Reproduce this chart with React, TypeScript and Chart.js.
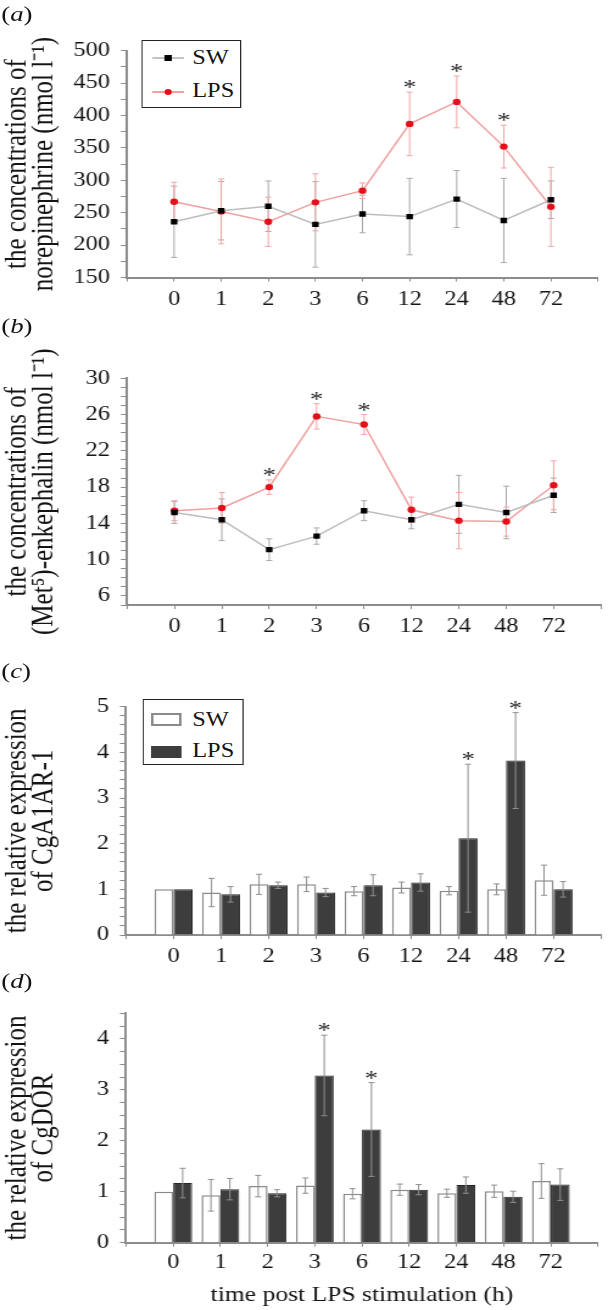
import React, { useEffect, useRef } from "react";
import { Chart, registerables } from "chart.js";

Chart.register(...registerables);

const SERIF = '"Liberation Serif", "Times New Roman", Times, serif';
const AXIS = "#8c8c8c";
const INK = "#141414";
const W = 499;
const SX = 608 / W;
const ix = (x: number) => x / SX;

// ---------- data ----------
const hours = ["0", "1", "2", "3", "6", "12", "24", "48", "72"];

// (a) norepinephrine
const neSW = [236, 253, 260, 232, 248, 244, 271, 238, 270];
const neSWErr = [55, 45, 39, 66, 29, 59, 44, 65, 29];
const neLPS = [267, 252, 236, 266, 284, 387, 421, 352, 259];
const neLPSErr = [30, 50, 38, 44, 12, 49, 40, 33, 61];
const neStars = [false, false, false, false, false, true, true, true, false];
const neTicks = [150, 200, 250, 300, 350, 400, 450, 500];

// (b) Met5-enkephalin
const enkSW = [15.2, 14.4, 11.1, 12.6, 15.4, 14.4, 16.1, 15.2, 17.1];
const enkSWErr = [1.2, 2.3, 1.2, 0.9, 1.1, 1.0, 3.2, 2.9, 1.9];
const enkLPS = [15.4, 15.7, 18.0, 25.8, 24.9, 15.5, 14.3, 14.2, 18.2];
const enkLPSErr = [1.1, 1.7, 0.8, 1.4, 1.1, 1.4, 3.1, 1.6, 2.7];
const enkStars = [false, false, true, true, true, false, false, false, false];
const enkTicks = [6, 10, 14, 18, 22, 26, 30];

// (c) CgA1AR-1
const a1SW = [1.0, 0.93, 1.11, 1.11, 0.96, 1.04, 0.97, 1.0, 1.2];
const a1SWErr = [0, 0.31, 0.22, 0.16, 0.1, 0.12, 0.09, 0.12, 0.33];
const a1LPS = [1.0, 0.89, 1.09, 0.93, 1.09, 1.15, 2.12, 3.82, 1.0];
const a1LPSErr = [0, 0.17, 0.07, 0.09, 0.23, 0.19, 1.62, 1.05, 0.17];
const a1Stars = [false, false, false, false, false, false, true, true, false];
const a1Ticks = [0, 1, 2, 3, 4, 5];

// (d) CgDOR
const dorSW = [1.0, 0.93, 1.11, 1.12, 0.96, 1.04, 0.97, 1.01, 1.21];
const dorSWErr = [0, 0.31, 0.21, 0.15, 0.1, 0.11, 0.08, 0.12, 0.34];
const dorLPS = [1.17, 1.05, 0.97, 3.28, 2.22, 1.04, 1.13, 0.9, 1.14];
const dorLPSErr = [0.29, 0.21, 0.07, 0.79, 0.92, 0.1, 0.16, 0.11, 0.31];
const dorStars = [false, false, false, true, true, false, false, false, false];
const dorTicks = [0, 1, 2, 3, 4];

// ---------- helpers ----------
const xLabels = ["", ...hours, ""];
const pad = (a: any[]) => [null, ...a, null];

function steps(min: number, max: number, step: number) {
  const out: number[] = [];
  const n = Math.round((max - min) / step);
  for (let i = 0; i <= n; i++) out.push(+(min + i * step).toFixed(4));
  return out;
}

function drawErrors(chart: any) {
  const ctx = chart.ctx;
  chart.data.datasets.forEach((ds: any, i: number) => {
    if (!ds.errors) return;
    const meta = chart.getDatasetMeta(i);
    const ys = chart.scales[meta.yAxisID];
    ctx.save();
    ctx.strokeStyle = ds.errorColor;
    ctx.lineWidth = 1;
    ds.data.forEach((v: any, j: number) => {
      const e = ds.errors[j];
      if (v == null || !e) return;
      const x = meta.data[j].x;
      const yt = ys.getPixelForValue(v + e);
      const yb = ys.getPixelForValue(v - e);
      ctx.beginPath();
      ctx.moveTo(x, yt);
      ctx.lineTo(x, yb);
      ctx.moveTo(x - 2.5, yt);
      ctx.lineTo(x + 2.5, yt);
      ctx.moveTo(x - 2.5, yb);
      ctx.lineTo(x + 2.5, yb);
      ctx.stroke();
    });
    ctx.restore();
  });
}

function drawStars(chart: any) {
  const ctx = chart.ctx;
  chart.data.datasets.forEach((ds: any, i: number) => {
    if (!ds.stars) return;
    const meta = chart.getDatasetMeta(i);
    const ys = chart.scales[meta.yAxisID];
    ctx.save();
    ctx.fillStyle = "#2a2a2a";
    ctx.font = `22px ${SERIF}`;
    ctx.textAlign = "center";
    ctx.textBaseline = "alphabetic";
    ds.data.forEach((v: any, j: number) => {
      if (!ds.stars[j] || v == null) return;
      const e = ds.errors ? ds.errors[j] || 0 : 0;
      const x = meta.data[j].x;
      const yt = ys.getPixelForValue(v + e);
      ctx.fillText("*", x, yt + 2);
    });
    ctx.restore();
  });
}

const errorBarPlugin = {
  id: "errorBars",
  beforeDatasetsDraw(chart: any) {
    if (chart.config.type === "line") drawErrors(chart);
  },
  afterDatasetsDraw(chart: any) {
    if (chart.config.type === "bar") drawErrors(chart);
    drawStars(chart);
  },
};

type PanelSpec = {
  type: "line" | "bar";
  datasets: any[];
  yMin: number;
  yMax: number;
  yStep: number;
  yMajors: number[];
  yTitle: string[];
  height: number;
  chartTop: number;
  chartBottom: number;
  left: number;
  right: number;
  xPad: number;
  xTitle?: string;
};

function buildConfig(p: PanelSpec): any {
  const minor = steps(p.yMin, p.yMax, p.yStep);
  return {
    type: p.type,
    data: { labels: xLabels, datasets: p.datasets },
    plugins: [errorBarPlugin],
    options: {
      animation: false,
      responsive: false,
      maintainAspectRatio: false,
      devicePixelRatio: 1,
      events: [],
      layout: { padding: { left: 0, right: W - p.right, top: p.chartTop, bottom: 0 } },
      plugins: { legend: { display: false }, tooltip: { enabled: false }, title: { display: false } },
      scales: {
        x: {
          type: "category",
          offset: false,
          grid: { display: true, drawOnChartArea: false, drawTicks: true, tickLength: 4, color: AXIS, offset: false },
          border: { display: true, color: AXIS, width: 2 },
          ticks: { color: INK, font: { family: SERIF, size: 20 }, padding: p.xPad, autoSkip: false, maxRotation: 0, minRotation: 0 },
          title: p.xTitle
            ? { display: true, text: p.xTitle, color: INK, font: { family: SERIF, size: 21 }, padding: { top: 0, bottom: 2 } }
            : { display: false },
          afterFit: (s: any) => {
            s.height = p.height - p.chartBottom;
          },
        },
        y: {
          type: "linear",
          min: p.yMin,
          max: p.yMax,
          afterBuildTicks: (s: any) => {
            s.ticks = minor.map((v) => ({ value: v }));
          },
          grid: { display: true, drawOnChartArea: false, drawTicks: true, tickLength: 5, color: AXIS },
          border: { display: true, color: AXIS, width: 2 },
          ticks: {
            color: INK,
            font: { family: SERIF, size: 20 },
            padding: 9,
            autoSkip: false,
            callback: (v: any) => {
              const m = p.yMajors.find((t) => Math.abs(t - v) < 1e-6);
              return m === undefined ? "" : String(m);
            },
          },
          title: {
            display: true,
            text: p.yTitle,
            color: INK,
            font: { family: SERIF, size: 25, lineHeight: 0.88 },
            padding: { top: 3, bottom: 0 },
          },
          afterFit: (s: any) => {
            s.width = p.left;
          },
        },
      },
    },
  };
}

const swLine = (data: number[], err: number[]) => ({
  label: "SW",
  data: pad(data),
  errors: pad(err),
  errorColor: "#a8a8a8",
  borderColor: "#bdbdbd",
  borderWidth: 1.5,
  pointStyle: "rect",
  pointRadius: 3.8,
  pointBackgroundColor: "#000",
  pointBorderColor: "#000",
  pointBorderWidth: 0,
  tension: 0,
});

const lpsLine = (data: number[], err: number[], stars: boolean[]) => ({
  label: "LPS",
  data: pad(data),
  errors: pad(err),
  stars: pad(stars),
  errorColor: "#f0a6a6",
  borderColor: "#f0a0a0",
  borderWidth: 1.5,
  pointStyle: "circle",
  pointRadius: 3.2,
  pointBackgroundColor: "#e3101a",
  pointBorderColor: "#e3101a",
  pointBorderWidth: 0,
  tension: 0,
});

const swBar = (data: number[], err: number[]) => ({
  label: "SW",
  data: pad(data),
  errors: pad(err),
  errorColor: "#8f8f8f",
  backgroundColor: "#ffffff",
  borderColor: "#8a8a8a",
  borderWidth: 1.5,
  categoryPercentage: 0.8,
  barPercentage: 1.0,
});

const lpsBar = (data: number[], err: number[], stars: boolean[]) => ({
  label: "LPS",
  data: pad(data),
  errors: pad(err),
  stars: pad(stars),
  errorColor: "#8f8f8f",
  backgroundColor: "#3d3d3d",
  borderColor: "#262626",
  borderWidth: 1,
  categoryPercentage: 0.8,
  barPercentage: 1.0,
});

const panels: { top: number; spec: PanelSpec }[] = [
  {
    top: 0,
    spec: {
      type: "line",
      datasets: [swLine(neSW, neSWErr), lpsLine(neLPS, neLPSErr, neStars)],
      yMin: 150,
      yMax: 500,
      yStep: 25,
      yMajors: neTicks,
      yTitle: ["the concentrations of", "norepinephrine (nmol l\u207B\u00B9)"],
      height: 330,
      chartTop: 50.7,
      chartBottom: 277.5,
      left: ix(127),
      right: ix(598),
      xPad: 6.5,
    },
  },
  {
    top: 330,
    spec: {
      type: "line",
      datasets: [swLine(enkSW, enkSWErr), lpsLine(enkLPS, enkLPSErr, enkStars)],
      yMin: 5,
      yMax: 30,
      yStep: 1,
      yMajors: enkTicks,
      yTitle: ["the concentrations of", "(Met\u2075)-enkephalin (nmol l\u207B\u00B9)"],
      height: 310,
      chartTop: 48.3,
      chartBottom: 275,
      left: ix(127),
      right: ix(603),
      xPad: 5.7,
    },
  },
  {
    top: 640,
    spec: {
      type: "bar",
      datasets: [swBar(a1SW, a1SWErr), lpsBar(a1LPS, a1LPSErr, a1Stars)],
      yMin: 0,
      yMax: 5,
      yStep: 0.2,
      yMajors: a1Ticks,
      yTitle: ["the relative expression", "of CgA1AR-1"],
      height: 330,
      chartTop: 66.7,
      chartBottom: 295,
      left: ix(126),
      right: ix(605),
      xPad: 5.7,
    },
  },
  {
    top: 970,
    spec: {
      type: "bar",
      datasets: [swBar(dorSW, dorSWErr), lpsBar(dorLPS, dorLPSErr, dorStars)],
      yMin: 0,
      yMax: 4.5,
      yStep: 0.25,
      yMajors: dorTicks,
      yTitle: ["the relative expression", "of CgDOR"],
      height: 340,
      chartTop: 43.3,
      chartBottom: 272.7,
      left: ix(126),
      right: ix(598),
      xPad: 4.3,
      xTitle: "time post LPS stimulation (h)",
    },
  },
];

function ChartCanvas({ spec, top }: { spec: PanelSpec; top: number }) {
  const ref = useRef<HTMLCanvasElement | null>(null);
  useEffect(() => {
    if (!ref.current) return;
    const c = new Chart(ref.current, buildConfig(spec));
    return () => c.destroy();
  }, []);
  return (
    <canvas
      ref={ref}
      width={W}
      height={spec.height}
      style={{ position: "absolute", left: 0, top, width: W, height: spec.height, display: "block" }}
    />
  );
}

const labelStyle = (top: number): React.CSSProperties => ({
  position: "absolute",
  left: 1,
  top,
  fontFamily: SERIF,
  fontSize: 22,
  lineHeight: "22px",
  color: INK,
  whiteSpace: "nowrap",
});

const legendText = (top: number, left: number): React.CSSProperties => ({
  position: "absolute",
  left,
  top,
  fontFamily: SERIF,
  fontSize: 20,
  lineHeight: "20px",
  color: INK,
  whiteSpace: "nowrap",
});

function LineLegend() {
  const boxL = ix(141.7);
  const boxW = ix(241.7) - boxL;
  const lineL = ix(150.7) - boxL;
  const lineW = ix(183.3 - 150.7);
  const textL = ix(191) - boxL;
  return (
    <div
      style={{
        position: "absolute",
        left: boxL,
        top: 40,
        width: boxW,
        height: 67.7,
        border: "1.5px solid #222",
        boxSizing: "border-box",
        background: "#fff",
      }}
    >
      <div style={{ position: "absolute", left: lineL, top: 16.3, width: lineW, height: 2, background: "#c4c4c4" }} />
      <div style={{ position: "absolute", left: lineL + lineW / 2 - 2.7, top: 14.3, width: 5.4, height: 6, background: "#000" }} />
      <div style={legendText(6.2, textL)}>SW</div>
      <div style={{ position: "absolute", left: lineL, top: 50.3, width: lineW, height: 1.6, background: "#f0a0a0" }} />
      <div
        style={{
          position: "absolute",
          left: lineL + lineW / 2 - 3.2,
          top: 47.9,
          width: 6.4,
          height: 6.4,
          borderRadius: "50%",
          background: "#e3101a",
        }}
      />
      <div style={legendText(38.8, textL)}>LPS</div>
    </div>
  );
}

function BarLegend() {
  const boxL = ix(142.6);
  const boxW = ix(244) - boxL;
  const patchL = ix(149.6) - boxL;
  const patchW = ix(180.5 - 149.6);
  const textL = ix(191) - boxL;
  return (
    <div
      style={{
        position: "absolute",
        left: boxL,
        top: 699,
        width: boxW,
        height: 66,
        border: "1.5px solid #222",
        boxSizing: "border-box",
        background: "#fff",
      }}
    >
      <div
        style={{
          position: "absolute",
          left: patchL,
          top: 12.5,
          width: patchW,
          height: 13.3,
          background: "#fff",
          border: "2px solid #8a8a8a",
          boxSizing: "border-box",
        }}
      />
      <div style={legendText(8.8, textL)}>SW</div>
      <div style={{ position: "absolute", left: patchL, top: 45.5, width: patchW, height: 12.5, background: "#3d3d3d" }} />
      <div style={legendText(39.8, textL)}>LPS</div>
    </div>
  );
}

export default function App() {
  return (
    <div
      style={{
        position: "absolute",
        left: 0,
        top: 0,
        width: W,
        height: 1310,
        background: "#fff",
        transform: `scaleX(${SX})`,
        transformOrigin: "0 0",
        overflow: "hidden",
      }}
    >
      {panels.map((p, i) => (
        <ChartCanvas key={i} spec={p.spec} top={p.top} />
      ))}
      <div style={labelStyle(3)}>(<i>a</i>)</div>
      <div style={labelStyle(315)}>(<i>b</i>)</div>
      <div style={labelStyle(660)}>(<i>c</i>)</div>
      <div style={labelStyle(970)}>(<i>d</i>)</div>
      <LineLegend />
      <BarLegend />
    </div>
  );
}
